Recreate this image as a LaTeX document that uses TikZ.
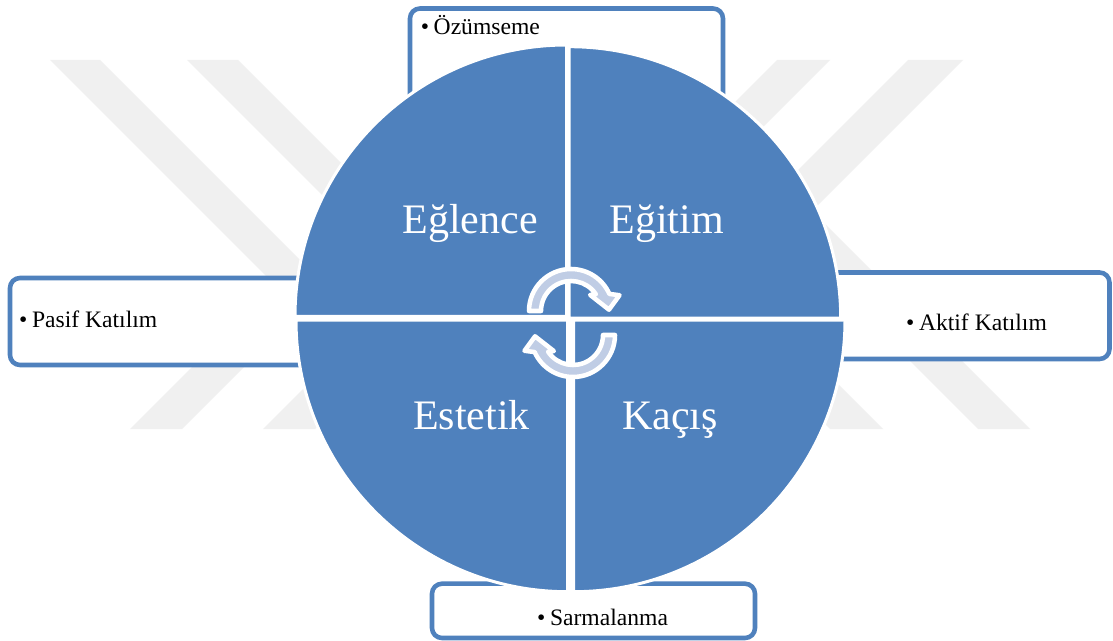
\documentclass[tikz,border=0pt]{standalone}
\usepackage{fontspec}
\setmainfont{Liberation Serif}
\definecolor{quad}{RGB}{79,129,189}
\definecolor{mark}{RGB}{240,240,240}
\definecolor{arrowfill}{RGB}{192,205,229}
\begin{document}
\begin{tikzpicture}[x=0.75pt,y=-0.75pt,
  band/.style={fill=mark},
  boxfill/.style={fill=white, rounded corners=7.5pt},
  framebox/.style={draw=quad, line width=3.4pt, rounded corners=7.5pt, line cap=butt},
  sector/.style={fill=quad, draw=white, line width=2.25pt, line join=round},
  boxtext/.style={inner sep=0pt, anchor=base west, font=\fontsize{17.7}{20}\selectfont},
  quadlabel/.style={inner sep=0pt, anchor=base, text=white, font=\fontsize{31.5}{36}\selectfont},
  cyclearrow/.style={fill=arrowfill, draw=white, line width=3.4pt, line join=round}]

% canvas
\fill[white] (0,0) rectangle (1113,641);
\useasboundingbox (0,0) rectangle (1113,641);

% faint diagonal bands in the background
\fill[band] (50,60) -- (100,60) -- (330,290) -- (280,290) -- cycle;
\fill[band] (187,60) -- (238,60) -- (383,205) -- (332,205) -- cycle;
\fill[band] (130,429) -- (182,429) -- (361,250) -- (309,250) -- cycle;
\fill[band] (263,429) -- (315,429) -- (364,380) -- (312,380) -- cycle;
\fill[band] (777,60) -- (830,60) -- (740,150) -- (687,150) -- cycle;
\fill[band] (908,60) -- (963,60) -- (793,230) -- (738,230) -- cycle;
\fill[band] (830,429) -- (883,429) -- (834,380) -- (781,380) -- cycle;
\fill[band] (978,429) -- (1030,429) -- (811,210) -- (759,210) -- cycle;

% outer boxes (their inner ends run under the disc)
\fill[boxfill] (410,8.5) rectangle (723,130);
\draw[framebox] (410,130) -- (410,8.5) -- (723,8.5) -- (723,130);
\fill[boxfill] (10,278) rectangle (330,365);
\draw[framebox] (330,278) -- (10,278) -- (10,365) -- (330,365);
\fill[boxfill] (800,272.5) rectangle (1109.5,359);
\draw[framebox] (800,272.5) -- (1109.5,272.5) -- (1109.5,359) -- (800,359);
\fill[boxfill] (432,583.7) rectangle (755,638);
\draw[framebox] (545,583.7) -- (432,583.7) -- (432,638) -- (755,638) -- (755,583.7) -- (595,583.7);

% box texts
\node[boxtext] (ozumseme) at (420.5,35) {•\hspace{0.2em}Özümseme};
\node[boxtext] (pasif) at (18.8,328) {•\hspace{0.2em}Pasif Katılım};
\node[boxtext] (aktif) at (905.8,330) {•\hspace{0.2em}Aktif Katılım};
\node[boxtext] (sarmalanma) at (536.8,625) {•\hspace{0.2em}Sarmalanma};

% four quarter discs
\filldraw[sector] (566.5,316.5) -- (295,316.5) arc[start angle=180, end angle=270, radius=271.5] -- cycle;
\filldraw[sector] (569.2,318.2) -- (569.2,46.7) arc[start angle=270, end angle=360, radius=271.5] -- cycle;
\filldraw[sector] (573.5,320.2) -- (845,320.2) arc[start angle=0, end angle=90, radius=271.5] -- cycle;
\filldraw[sector] (567.5,320.2) -- (567.5,591.7) arc[start angle=90, end angle=180, radius=271.5] -- cycle;

% quadrant labels
\node[quadlabel] (eglence) at (470,233.3) {Eğlence};
\node[quadlabel] (egitim) at (666.5,234) {Eğitim};
\node[quadlabel] (estetik) at (471.5,429) {Estetik};
\node[quadlabel] (kacis) at (670,429) {Kaçış};

% cycle arrows in the centre
\begin{scope}[shift={(571,311)}]
  \filldraw[cyclearrow] (180:42) arc[start angle=180, end angle=336, radius=42]
    -- (342:51) -- (358:38) -- (320:25) -- (326:30)
    arc[start angle=326, end angle=180, radius=30] -- cycle;
\end{scope}
\begin{scope}[shift={(573,335)}, rotate=180]
  \filldraw[cyclearrow] (180:42) arc[start angle=180, end angle=336, radius=42]
    -- (342:51) -- (358:38) -- (320:25) -- (326:30)
    arc[start angle=326, end angle=180, radius=30] -- cycle;
\end{scope}
\end{tikzpicture}
\end{document}
